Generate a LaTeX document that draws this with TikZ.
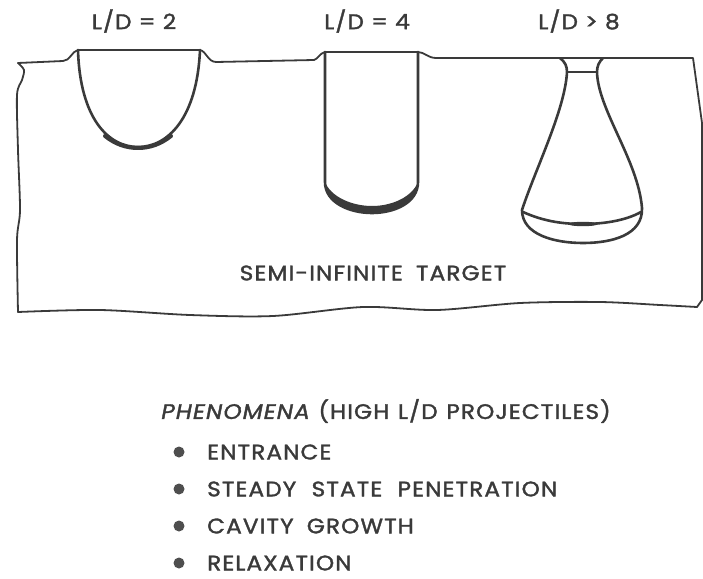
\documentclass[tikz,border=0pt]{standalone}
\usepackage{fontspec}
\setmainfont{Poppins}[FakeBold=1.6, LetterSpace=5]
\newfontfamily\slantfont{Poppins}[FakeBold=1.6, LetterSpace=5, FakeSlant=0.18]
\definecolor{inkc}{RGB}{58,58,58}
\newcommand{\widetext}[1]{\scalebox{1.1}[1]{#1}}
\begin{document}
\begin{tikzpicture}[x=1pt,y=-1pt,
  ink/.style={draw=inkc, line cap=round, line join=round},
  outline/.style={ink, line width=1.8},
  cavity/.style={ink, line width=2.6},
  thin/.style={ink, line width=1.4},
  lbl/.style={text=inkc, font=\fontsize{21}{24}\selectfont, inner sep=0},
  bul/.style={circle, fill=inkc!90, minimum size=11, inner sep=0}]
\useasboundingbox (0,0) rectangle (703,578);

% target surface with the raised crater lips
\draw[outline] (18,63) -- (63,61) .. controls (70,61) and (72,51) .. (78,50) -- (200,50)
  .. controls (206,51) and (208,62) .. (216,62) -- (314,60)
  .. controls (318,59) and (320,53) .. (325,52) -- (418,52)
  .. controls (424,52) and (428,58) .. (436,58) -- (693,58)
  -- (702,123) -- (702,300) -- (697,307);
% left edge
\draw[outline] plot[smooth] coordinates {(18,63) (24,70) (22,80) (17,95) (18,150) (20,210) (17,240) (18,312)};
% broken lower edge
\draw[outline] plot[smooth] coordinates {(18,312) (100,310) (190,315) (273,316) (363,307) (437,310) (520,303) (600,302) (660,305) (697,307)};

% crater L/D = 2
\draw[cavity] (78,50) .. controls (80,118) and (108,147) .. (138,147) .. controls (168,147) and (197,118) .. (200,50);
\draw[ink, line width=4] (105,136) .. controls (115,144) and (126,148) .. (138,148) .. controls (150,148) and (161,144) .. (171,136);

% crater L/D = 4
\draw[cavity] (325,52) -- (325,182) .. controls (325,203) and (350,213) .. (372,213) .. controls (394,213) and (418,203) .. (418,182) -- (418,52);
\fill[inkc] (325,182) .. controls (325,203) and (350,213) .. (372,213) .. controls (394,213) and (418,203) .. (418,182)
  .. controls (412,197) and (392,206) .. (372,206) .. controls (352,206) and (331,197) .. (325,182) -- cycle;

% crater L/D > 8
\draw[cavity] (560,58) .. controls (565,62) and (567,66) .. (567,72)
  .. controls (565,110) and (535,170) .. (522,210)
  .. controls (522,235) and (555,243) .. (583,243)
  .. controls (612,243) and (643,235) .. (642,208)
  .. controls (638,160) and (598,110) .. (597,72)
  .. controls (597,66) and (599,62) .. (603,58);
\draw[thin] (567,72) -- (597,72);
\draw[cavity] (523,212) .. controls (545,222) and (565,224) .. (583,224) .. controls (602,224) and (625,221) .. (641,212);
\fill[inkc] (583,224) ellipse [x radius=15, y radius=2.2];

% labels
\node[lbl] (ld2) at (134,21) {\widetext{L/D = 2}};
\node[lbl] (ld4) at (367,21) {\widetext{L/D = 4}};
\node[lbl] (ld8) at (579,21) {\widetext{L/D > 8}};
\node[lbl] (tgt) at (373,273) {\widetext{SEMI-INFINITE\hspace{12pt}TARGET}};

\node[lbl, anchor=west] (phen) at (160,411) {\widetext{\slantfont PHENOMENA\hspace{9pt}\rmfamily(HIGH\hspace{8pt}L/D\hspace{8pt}PROJECTILES)}};
\node[bul] (b1) at (179,452) {};
\node[bul] (b2) at (179,489) {};
\node[bul] (b3) at (179,526) {};
\node[bul] (b4) at (179,563) {};
\node[lbl, anchor=west] (t1) at (207,452) {\widetext{ENTRANCE}};
\node[lbl, anchor=west] (t2) at (207,489) {\widetext{STEADY\hspace{14pt}STATE\hspace{14pt}PENETRATION}};
\node[lbl, anchor=west] (t3) at (207,526) {\widetext{CAVITY\hspace{12pt}GROWTH}};
\node[lbl, anchor=west] (t4) at (207,563) {\widetext{RELAXATION}};
\end{tikzpicture}
\end{document}
